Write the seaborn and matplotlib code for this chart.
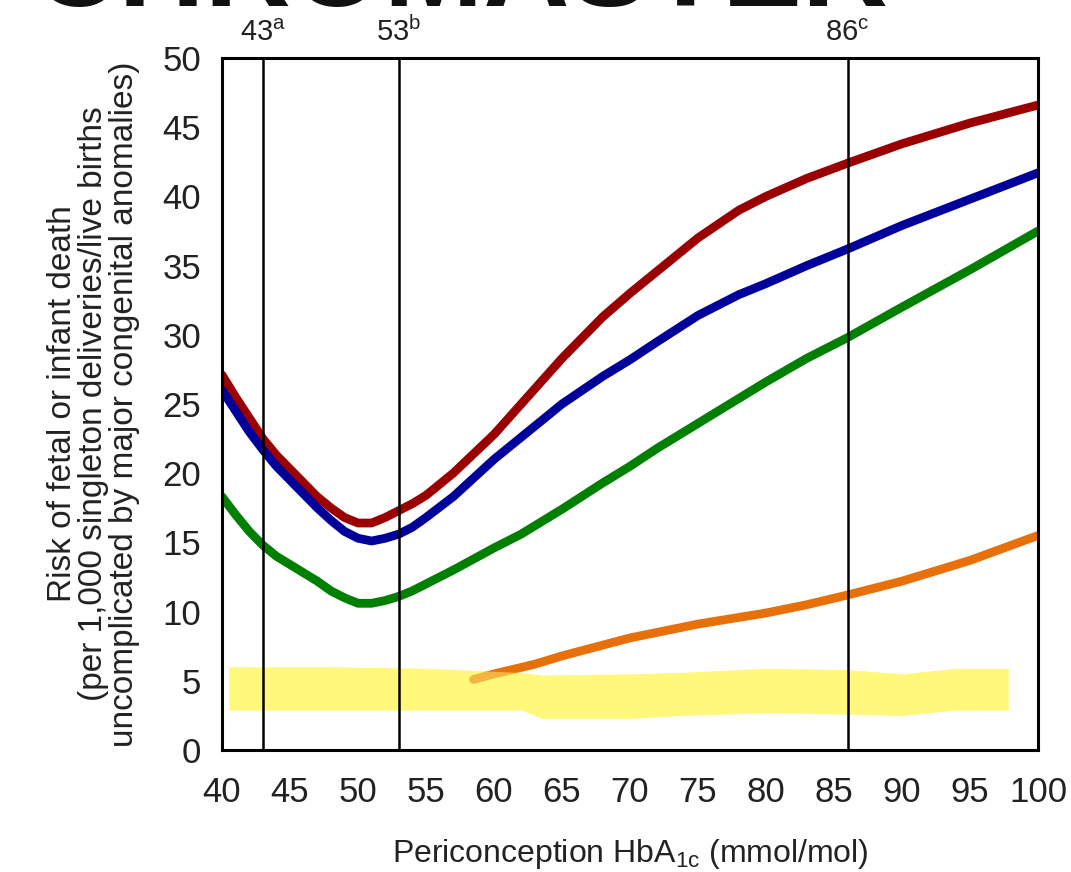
import numpy as np
import pandas as pd
import matplotlib
matplotlib.use("Agg")
import matplotlib.pyplot as plt
import seaborn as sns

# Risk curves by periconception HbA1c (mmol/mol)
hba1c = [40, 41, 42, 43, 44, 45, 46, 47, 48, 49, 50, 51, 52, 53, 54, 55, 57, 60,
         62, 65, 68, 70, 72, 75, 78, 80, 83, 86, 90, 95, 100]
risk_red = [27.1, 25.5, 24.0, 22.5, 21.3, 20.3, 19.3, 18.3, 17.5, 16.8, 16.4, 16.4,
            16.8, 17.3, 17.8, 18.4, 20.0, 22.8, 25.0, 28.3, 31.3, 33.0, 34.6, 37.0,
            39.0, 40.0, 41.3, 42.4, 43.8, 45.3, 46.6]
risk_blue = [26.0, 24.5, 23.0, 21.7, 20.5, 19.5, 18.5, 17.5, 16.6, 15.8, 15.3, 15.1,
             15.3, 15.6, 16.1, 16.8, 18.3, 21.0, 22.6, 25.0, 27.0, 28.2, 29.5, 31.4,
             32.9, 33.7, 35.0, 36.2, 37.9, 39.8, 41.7]
risk_green = [18.3, 17.0, 15.8, 14.8, 14.0, 13.4, 12.8, 12.2, 11.5, 11.0, 10.6, 10.6,
              10.8, 11.1, 11.5, 12.0, 13.0, 14.6, 15.6, 17.4, 19.3, 20.5, 21.8, 23.6,
              25.4, 26.6, 28.3, 29.8, 32.0, 34.7, 37.5]

hba1c_orange = [58.5, 60, 63, 65, 70, 75, 80, 83, 86, 90, 95, 100]
risk_orange = [5.1, 5.5, 6.2, 6.8, 8.1, 9.1, 9.9, 10.5, 11.2, 12.2, 13.7, 15.5]

# Highlighted band near the bottom
band_x = [40.5, 48, 55, 62, 63.5, 70, 73.7, 80, 86, 90, 94, 97.8]
band_top = [6.0, 6.0, 5.9, 5.6, 5.4, 5.5, 5.6, 5.9, 5.8, 5.5, 5.9, 5.9]
band_bottom = [2.9, 2.9, 2.9, 2.9, 2.3, 2.3, 2.5, 2.7, 2.6, 2.5, 2.9, 2.9]

# Reference HbA1c thresholds
thresholds = [43, 53, 86]
threshold_labels = [r"$\mathregular{43^{a}}$", r"$\mathregular{53^{b}}$", r"$\mathregular{86^{c}}$"]

x_ticks = list(range(40, 101, 5))
y_ticks = list(range(0, 51, 5))

sns.set_theme(style="white")
plt.rcParams["font.family"] = ["Liberation Sans", "DejaVu Sans"]
plt.rcParams["mathtext.fontset"] = "custom"
plt.rcParams["mathtext.rm"] = "Liberation Sans"
plt.rcParams["mathtext.it"] = "Liberation Sans"

df = pd.DataFrame({
    "hba1c": hba1c * 3 + hba1c_orange,
    "risk": risk_red + risk_blue + risk_green + risk_orange,
    "series": ["red"] * len(hba1c) + ["blue"] * len(hba1c) + ["green"] * len(hba1c)
              + ["orange"] * len(hba1c_orange),
})
palette = {"red": "#9a0000", "blue": "#00009a", "green": "#007f00", "orange": "#e8700a"}

fig = plt.figure(figsize=(10.71, 8.72), dpi=100)
ax = fig.add_axes([0.2073, 0.1399, 0.7619, 0.7936])

# Opaque highlight underneath the curves
ax.fill_between(band_x, band_bottom, band_top, color="#fff87a", lw=0, zorder=1)

sns.lineplot(data=df, x="hba1c", y="risk", hue="series", palette=palette,
             linewidth=6.3, legend=False, ax=ax, zorder=3, solid_capstyle="round",
             estimator=None, sort=True)

# Translucent highlight over the orange curve where they cross
ax.fill_between(band_x, band_bottom, band_top, color="#fff87a", alpha=0.5, lw=0, zorder=4)

for t, lab in zip(thresholds, threshold_labels):
    ax.axvline(t, color="black", lw=1.8, zorder=5)
    ax.text(t, 1.016, lab, transform=ax.get_xaxis_transform(), ha="center", va="bottom",
            fontsize=21, color="#222222")

ax.set_xlim(40, 100)
ax.set_ylim(0, 50)
ax.set_xticks(x_ticks)
ax.set_yticks(y_ticks)
ax.tick_params(axis="both", direction="out", length=7, width=2, colors="black",
               labelsize=25, labelcolor="#222222")
ax.tick_params(axis="x", pad=12)
ax.tick_params(axis="y", pad=8)
for side in ["left", "bottom", "top", "right"]:
    ax.spines[side].set_visible(True)
    ax.spines[side].set_color("black")
    ax.spines[side].set_linewidth(2.2)
    ax.spines[side].set_zorder(6)

ax.set_xlabel(r"Periconception HbA$_{\mathregular{1c}}$ (mmol/mol)", fontsize=23,
              color="#222222", labelpad=20)
ax.set_ylabel("Risk of fetal or infant death\n(per 1,000 singleton deliveries/live births\n"
              "uncomplicated by major congenital anomalies)", fontsize=24,
              color="#222222", labelpad=16, linespacing=1.0)

# Large heading running off the top edge
fig.text(0.03, 1 - 6 / 872, "CHROMASTER", fontsize=86, fontweight="bold",
         color="#111111", ha="left", va="baseline")

fig.savefig("out.png", dpi=100, facecolor="white")
